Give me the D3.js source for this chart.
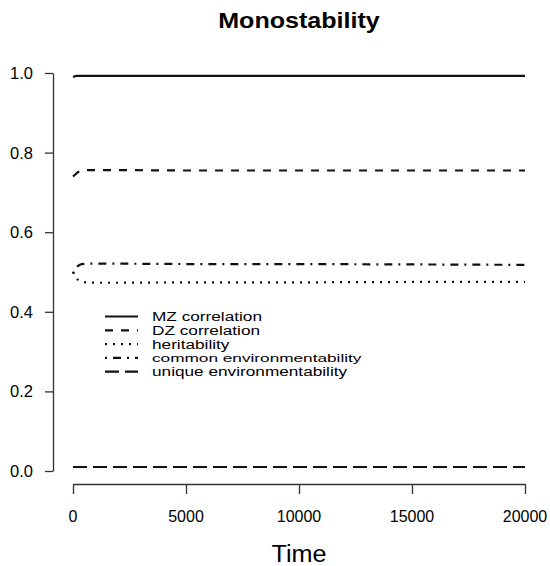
<!DOCTYPE html>
<html><head><meta charset="utf-8">
<script src="https://cdn.jsdelivr.net/npm/d3@7"></script>
<style>body{margin:0;background:#fff}svg{display:block}text{font-family:"Liberation Sans",Arial,Helvetica,sans-serif;fill:#000}</style>
</head><body><svg id="c" width="550" height="566"></svg>
<script>
const title = "Monostability";
const xLabel = "Time";
const time = [0, 100, 200, 300, 400, 600, 1000, 2000, 5000, 10000, 15000, 20000];
const mz   = [0.990, 0.992, 0.993, 0.993, 0.993, 0.993, 0.993, 0.993, 0.993, 0.993, 0.993, 0.993];
const dz   = [0.740, 0.745, 0.750, 0.753, 0.755, 0.756, 0.756, 0.756, 0.755, 0.755, 0.755, 0.755];
const her  = [0.500, 0.488, 0.481, 0.477, 0.475, 0.474, 0.473, 0.473, 0.474, 0.474, 0.475, 0.475];
const com  = [0.496, 0.507, 0.514, 0.518, 0.520, 0.521, 0.521, 0.521, 0.520, 0.520, 0.519, 0.518];
const uni  = [0.010, 0.010, 0.010, 0.010, 0.010, 0.010, 0.010, 0.010, 0.010, 0.010, 0.010, 0.010];
const seriesNames = ["MZ correlation", "DZ correlation", "heritability", "common environmentability", "unique environmentability"];
const seriesValues = [mz, dz, her, com, uni];
const dashes = [null, "8,8", "2,6", "2,6,8,6", "14,6"];
const xTicks = [0, 5000, 10000, 15000, 20000];
const yTicks = [0.0, 0.2, 0.4, 0.6, 0.8, 1.0];

const svg = d3.select("#c");
const x = d3.scaleLinear().domain([0, 20000]).range([73, 525]);
const y = d3.scaleLinear().domain([0, 1]).range([471, 73]);

function stext(g, tx, ty, str, size, anchor, sx, weight) {
  return g.append("text")
    .attr("transform", `translate(${tx},${ty}) scale(${sx},1)`)
    .attr("text-anchor", anchor)
    .style("font-size", size + "px")
    .style("font-weight", weight || "normal")
    .text(str);
}

// title
stext(svg, 299, 28, title, 22, "middle", 1.14, "bold");

// y axis
const ya = svg.append("g").attr("transform", "translate(53,0)")
  .call(d3.axisLeft(y).tickValues(yTicks).tickSize(8).tickSizeOuter(0).tickFormat(d3.format(".1f")));
ya.selectAll("text").remove();
ya.selectAll("path,line").attr("stroke", "#333").attr("stroke-width", 1.3);
yTicks.forEach(v => stext(svg, 33, y(v) + 6, d3.format(".1f")(v), 16, "end", 1.03));

// x axis
const xa = svg.append("g").attr("transform", "translate(0,484)")
  .call(d3.axisBottom(x).tickValues(xTicks).tickSize(10).tickSizeOuter(0));
xa.selectAll("text").remove();
xa.selectAll("path,line").attr("stroke", "#333").attr("stroke-width", 1.3);
xTicks.forEach(v => stext(svg, x(v), 522, String(v), 16, "middle", 1.0));

stext(svg, 299, 562, xLabel, 24, "middle", 1.05);

// lines
const line = d3.line().x((d, i) => x(time[i])).y(d => y(d));
seriesValues.forEach((vals, k) => {
  svg.append("path").datum(vals)
    .attr("d", line)
    .attr("fill", "none")
    .attr("stroke", "#111")
    .attr("stroke-width", 2.2)
    .attr("stroke-dasharray", dashes[k]);
});

// legend
const ly0 = 316.5, ldy = 13.8;
seriesNames.forEach((name, k) => {
  const yy = ly0 + k * ldy;
  svg.append("line").attr("x1", 105).attr("x2", 138).attr("y1", yy).attr("y2", yy)
    .attr("stroke", "#111").attr("stroke-width", 2.2).attr("stroke-dasharray", dashes[k]);
  stext(svg, 152, yy + 4.5, name, k === 3 ? 11.8 : 12.3, "start", k === 3 ? 1.46 : 1.4);
});
</script></body></html>
